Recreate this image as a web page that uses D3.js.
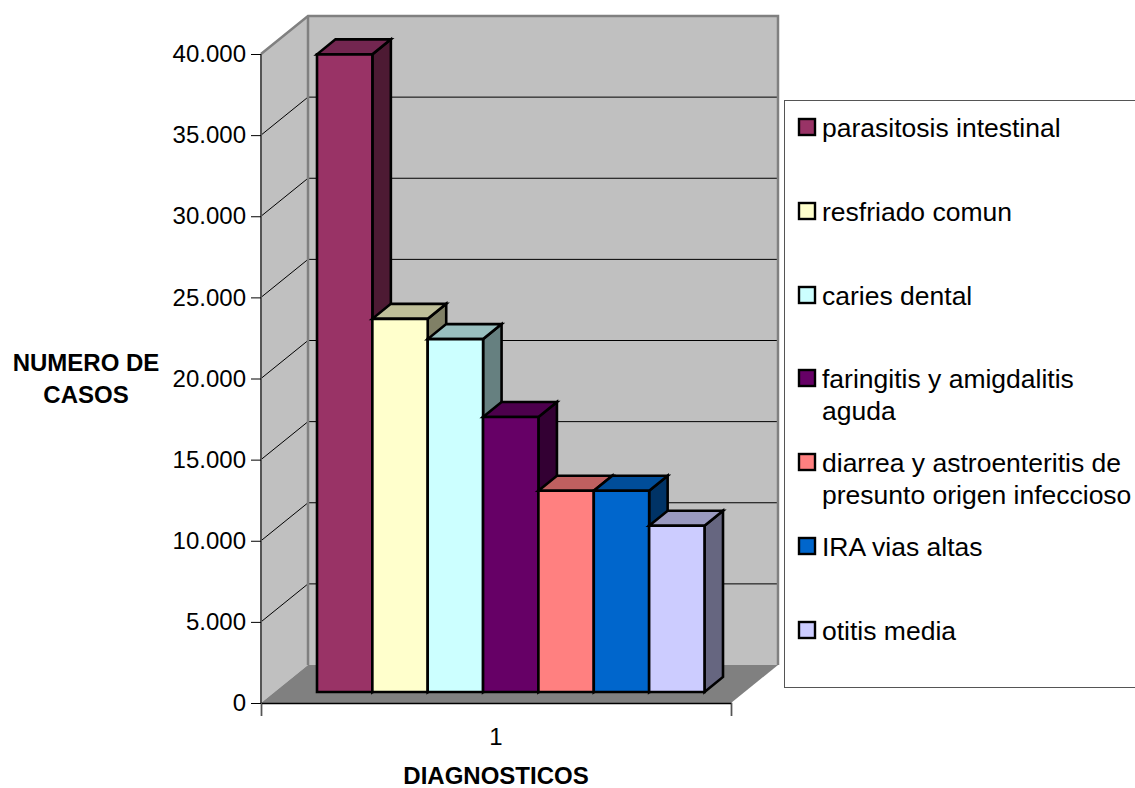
<!DOCTYPE html>
<html><head><meta charset="utf-8">
<script src="https://cdn.jsdelivr.net/npm/d3@7"></script>
<style>html,body{margin:0;padding:0;background:#fff;overflow:hidden}svg{display:block}text{font-family:"Liberation Sans",Arial,sans-serif;fill:#000}</style>
</head><body><svg id="c" width="1135" height="788"></svg>
<script>
const categories=["parasitosis intestinal","resfriado comun","caries dental","faringitis y amigdalitis aguda","diarrea y astroenteritis de presunto origen infeccioso","IRA vias altas","otitis media"];
const legendLines=[["parasitosis intestinal"],["resfriado comun"],["caries dental"],["faringitis y amigdalitis","aguda"],["diarrea y astroenteritis de","presunto origen infeccioso"],["IRA vias altas"],["otitis media"]];
const values=[39300,23000,21750,16950,12400,12400,10250];
const colors=["#993366","#ffffcc","#ccffff","#660066","#ff8080","#0066cc","#ccccff"];
const topColors=["#732650","#bfbf99","#99bfbf","#4d004d","#bf6060","#004d99","#9999bf"];
const sideColors=["#4d1a33","#808066","#668080","#330033","#804040","#003366","#666680"];
const yTicks=[0,5000,10000,15000,20000,25000,30000,35000,40000];
const yTickLabels=["0","5.000","10.000","15.000","20.000","25.000","30.000","35.000","40.000"];

const svg=d3.select("#c");
const y=d3.scaleLinear().domain([0,40000]).range([703,54]);
const xFront=d3.scaleLinear().domain([0,1]).range([261,731]);
const wallDx=47,wallDy=38;
const poly=(pts,fill,stroke,sw)=>svg.append("polygon").attr("points",pts.map(p=>p.join(",")).join(" ")).attr("fill",fill).attr("stroke",stroke||"none").attr("stroke-width",sw||0).attr("stroke-linejoin","miter");
const x0=xFront(0),x1=xFront(1),y0=y(0),yT=y(40000);

// walls and floor
poly([[x0,y0],[x0+wallDx,y0-wallDy],[x0+wallDx,yT-wallDy],[x0,yT]],"#c0c0c0");
poly([[x0+wallDx,y0-wallDy],[x1+wallDx,y0-wallDy],[x1+wallDx,yT-wallDy],[x0+wallDx,yT-wallDy]],"#c0c0c0");
poly([[x0,y0],[x1,y0],[x1+wallDx,y0-wallDy],[x0+wallDx,y0-wallDy]],"#808080");

// gridlines
yTicks.filter(v=>v>0&&v<40000).forEach(v=>{
  svg.append("polyline").attr("fill","none").attr("stroke","#000").attr("stroke-width",1)
    .attr("points",[[x0,y(v)],[x0+wallDx,y(v)-wallDy],[x1+wallDx,y(v)-wallDy]].map(p=>p.join(",")).join(" "));
});
// wall edges
svg.append("polyline").attr("fill","none").attr("stroke","#808080").attr("stroke-width",2.5)
  .attr("points",[[x0,yT],[x0+wallDx,yT-wallDy],[x1+wallDx,yT-wallDy],[x1+wallDx,y0-wallDy]].map(p=>p.join(",")).join(" "));
svg.append("line").attr("x1",x0+wallDx).attr("x2",x0+wallDx).attr("y1",yT-wallDy).attr("y2",y0-wallDy).attr("stroke","#808080").attr("stroke-width",2.5);
svg.append("line").attr("x1",x0).attr("x2",x0).attr("y1",yT).attr("y2",y0).attr("stroke","#555").attr("stroke-width",2);

// axes
const yAxis=d3.axisLeft(y).tickValues(yTicks).tickFormat((d,i)=>yTickLabels[i]).tickSize(10).tickPadding(5);
const gy=svg.append("g").attr("transform",`translate(${x0},0)`).call(yAxis);
gy.select(".domain").remove();
gy.selectAll("line").attr("stroke","#000");
gy.selectAll("text").style("font-size","24px").style("font-family","'Liberation Sans',Arial,sans-serif");
const xAxis=d3.axisBottom(d3.scaleLinear().domain([0,1]).range([x0,x1])).tickValues([0,1]).tickFormat("").tickSize(13);
const gx=svg.append("g").attr("transform",`translate(0,${y0})`).call(xAxis);
gx.select(".domain").attr("stroke","#000").attr("stroke-width",1.5);
gx.selectAll("line").attr("stroke","#555");
svg.append("text").attr("x",496).attr("y",745).attr("text-anchor","middle").style("font-size","24px").text("1");

// bars
const xBar=d3.scaleBand().domain(categories).range([317,704.5]).padding(0);
const barBase=692, scale=(y(0)-y(40000))/40000, bDx=18.5, bDy=15;
const bw=xBar.bandwidth();
categories.forEach((c,i)=>{
  const l=xBar(c), r=l+bw, t=barBase-values[i]*scale;
  poly([[r,barBase],[r+bDx,barBase-bDy],[r+bDx,t-bDy],[r,t]],sideColors[i],"#000",2.6);
  poly([[l,t],[r,t],[r+bDx,t-bDy],[l+bDx,t-bDy]],topColors[i],"#000",2.6);
  poly([[l,barBase],[r,barBase],[r,t],[l,t]],colors[i],"#000",2.6);
});

// axis titles
[["NUMERO DE",371],["CASOS",403]].forEach(d=>svg.append("text").attr("x",86).attr("y",d[1]).attr("text-anchor","middle").style("font-size","24px").style("font-weight","bold").text(d[0]));
svg.append("text").attr("x",496).attr("y",784).attr("text-anchor","middle").style("font-size","24px").style("font-weight","bold").text("DIAGNOSTICOS");

// legend
svg.append("rect").attr("x",784.5).attr("y",100.5).attr("width",400).attr("height",587).attr("fill","#fff").attr("stroke","#555").attr("stroke-width",1);
const legendBase=[137,221,305,388,472,556,640];
categories.forEach((c,i)=>{
  svg.append("rect").attr("x",799).attr("y",legendBase[i]-18).attr("width",16).attr("height",16).attr("fill",colors[i]).attr("stroke","#000").attr("stroke-width",2.4);
  const t=svg.append("text").style("font-size","26.5px");
  legendLines[i].forEach((ln,j)=>t.append("tspan").attr("x",822).attr("y",legendBase[i]+j*31.5).text(ln));
});
</script></body></html>
